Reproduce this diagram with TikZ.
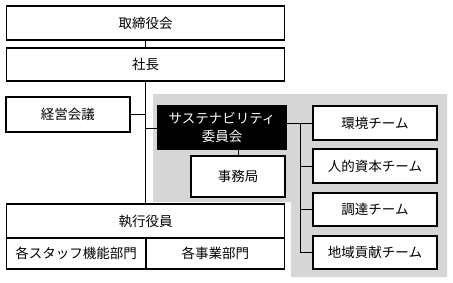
\documentclass[tikz,border=0pt]{standalone}
\usepackage{fontspec}
\setmainfont{Noto Sans CJK JP}

\begin{document}
\begin{tikzpicture}[x=1pt,y=-1pt,
  box/.style={draw, line width=1.1pt, fill=white, inner sep=0pt, font=\fontsize{13.5}{17.5}\selectfont},
  conn/.style={line width=0.9pt}]

\useasboundingbox (0,0) rectangle (453,282);

% Gray area
\fill[black!16] (153,94) -- (447,94) -- (447,277) -- (291,277) -- (291,202) -- (153,202) -- cycle;

% Main column
\node[box, minimum width=278, minimum height=34] (board) at (145.5,23) {取締役会};
\node[box, minimum width=278, minimum height=33] (president) at (145.5,64.5) {社長};
\node[box, minimum width=124, minimum height=35] (council) at (68,114.5) {経営会議};

% Executives
\node[box, minimum width=278, minimum height=34] (exec) at (145.5,221) {執行役員};
\node[box, minimum width=139.5, minimum height=31] (staff) at (76.25,253.5) {各スタッフ機能部門};
\node[box, minimum width=138.5, minimum height=31] (business) at (215.25,253.5) {各事業部門};

% Committee
\node[box, fill=black, text=white, align=center, minimum width=128, minimum height=43] (committee) at (222,127.5) {サステナビリティ\\委員会};
\node[box, minimum width=94, minimum height=41] (office) at (238,176.5) {事務局};

% Teams
\node[box, minimum width=124, minimum height=34] (env) at (375,123) {環境チーム};
\node[box, minimum width=124, minimum height=34] (human) at (375,166) {人的資本チーム};
\node[box, minimum width=124, minimum height=33] (procure) at (375,209.5) {調達チーム};
\node[box, minimum width=124, minimum height=33] (region) at (375,252.5) {地域貢献チーム};

% Connectors
\draw[conn] (board) -- (president);
\draw[conn] (president) -- (exec);
\draw[conn] (council.east) -- (council.east -| president.south);
\draw[conn] (committee.west |- 0,128) -- (president.south |- 0,128);
\draw[conn] (office.north) -- (office.north |- committee.south);
\coordinate (trunk) at (300,123);
\draw[conn] (env.west) -- (env.west -| committee.east);
\draw[conn] (trunk) |- (region.west);
\draw[conn] (trunk |- human.west) -- (human.west);
\draw[conn] (trunk |- procure.west) -- (procure.west);

\end{tikzpicture}
\end{document}
